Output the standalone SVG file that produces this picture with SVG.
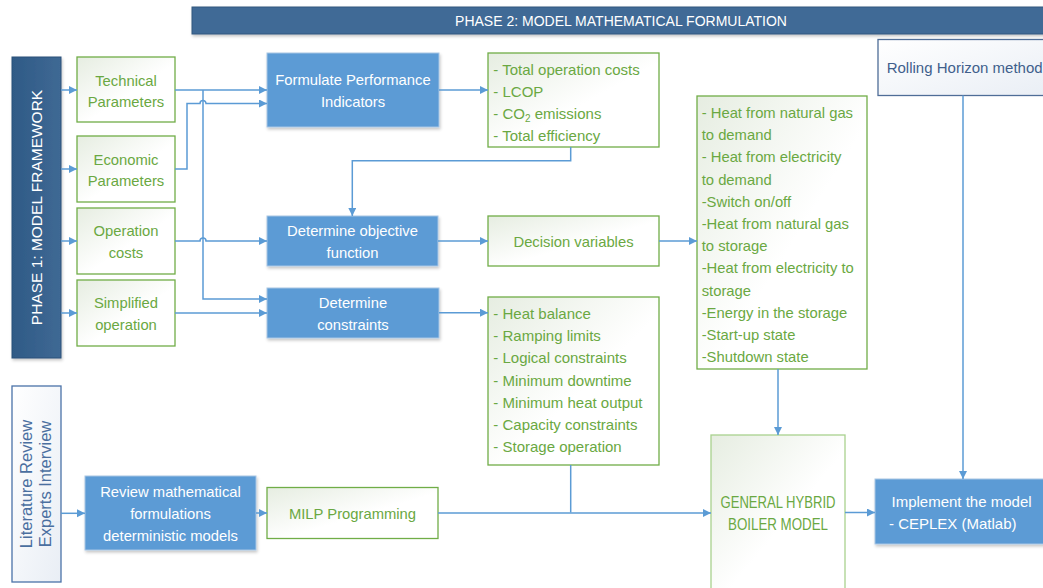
<svg xmlns="http://www.w3.org/2000/svg" width="1043" height="588" viewBox="0 0 1043 588">
<style>
text{font-family:"Liberation Sans",Arial,sans-serif;font-size:14.8px}
.w{fill:#ffffff}
.g{fill:#6aa842}
.c{text-anchor:middle}
.blue{fill:#5b9bd5;stroke:#a8c5e4;stroke-width:1}
.green{fill:url(#gg);stroke:#70ad47;stroke-width:1.3}
.conn path{fill:none;stroke:#5b9bd5;stroke-width:1.5}
.arr{marker-end:url(#ah)}
</style>
<defs>
<marker id="ah" markerUnits="userSpaceOnUse" markerWidth="9" markerHeight="9" refX="8" refY="4" orient="auto"><path d="M0,0 L8,4 L0,8 z" fill="#5b9bd5"/></marker>
<linearGradient id="gg" x1="0" y1="0" x2="1" y2="1"><stop offset="0" stop-color="#e6ede1"/><stop offset="0.55" stop-color="#ffffff"/></linearGradient>
<linearGradient id="bg" x1="0" y1="0" x2="1" y2="1"><stop offset="0" stop-color="#ffffff"/><stop offset="1" stop-color="#e9eef5"/></linearGradient>
<linearGradient id="dk" x1="0" y1="0" x2="1" y2="0"><stop offset="0" stop-color="#2f5a86"/><stop offset="1" stop-color="#3f6994"/></linearGradient>
<filter id="sh" x="-10%" y="-10%" width="130%" height="140%"><feDropShadow dx="1" dy="2" stdDeviation="1.5" flood-color="#000" flood-opacity="0.22"/></filter>
</defs>
<g id="banner"><rect x="192" y="7" width="860" height="27" fill="#3f6a96" stroke="#35597f" filter="url(#sh)"/><text x="621" y="25.5" class="w c" style="font-size:14px">PHASE 2: MODEL MATHEMATICAL FORMULATION</text></g>
<g id="phase1"><rect x="12" y="57" width="49" height="301" fill="url(#dk)" stroke="#2b5078" filter="url(#sh)"/><text transform="translate(41.5,207.5) rotate(-90)" class="w c" style="font-size:15.5px">PHASE 1: MODEL FRAMEWORK</text></g>
<g id="technical"><rect x="77" y="57" width="98" height="65" class="green"/><text x="126" y="86" class="g c">Technical</text><text x="126" y="107.3" class="g c">Parameters</text></g>
<g id="economic"><rect x="77" y="136" width="98" height="66" class="green"/><text x="126" y="164.7" class="g c">Economic</text><text x="126" y="186" class="g c">Parameters</text></g>
<g id="opcosts"><rect x="77" y="208" width="98" height="66" class="green"/><text x="126" y="236" class="g c">Operation</text><text x="126" y="257.7" class="g c">costs</text></g>
<g id="simplified"><rect x="77" y="280" width="98" height="66" class="green"/><text x="126" y="308.3" class="g c">Simplified</text><text x="126" y="330" class="g c">operation</text></g>
<g id="fpi"><rect x="267" y="53" width="172" height="74" class="blue" filter="url(#sh)"/><text x="353" y="85" class="w c">Formulate Performance</text><text x="353" y="106.7" class="w c">Indicators</text></g>
<g id="objective"><rect x="267" y="216" width="171" height="50" class="blue" filter="url(#sh)"/><text x="352.5" y="236" class="w c">Determine objective</text><text x="352.5" y="257.7" class="w c">function</text></g>
<g id="constraints"><rect x="267" y="288" width="172" height="50" class="blue" filter="url(#sh)"/><text x="353" y="308.3" class="w c">Determine</text><text x="353" y="330" class="w c">constraints</text></g>
<g id="kpis"><rect x="488" y="53" width="171" height="94" class="green"/>
<text x="493.3" y="75" class="g" style="font-size:15px">- Total operation costs</text>
<text x="493.3" y="97" class="g" style="font-size:15px">- LCOP</text>
<text x="493.3" y="119" class="g" style="font-size:15px">- CO<tspan style="font-size:10px" dy="3">2</tspan><tspan dy="-3"> emissions</tspan></text>
<text x="493.3" y="141" class="g" style="font-size:15px">- Total efficiency</text></g>
<g id="decision"><rect x="488" y="216" width="171" height="50" class="green"/><text x="573.5" y="246.7" class="g c">Decision variables</text></g>
<g id="conslist"><rect x="488" y="297" width="171" height="168" class="green"/>
<text x="493.3" y="319" class="g" style="font-size:15px">- Heat balance</text>
<text x="493.3" y="341.2" class="g" style="font-size:15px">- Ramping limits</text>
<text x="493.3" y="363.4" class="g" style="font-size:15px">- Logical constraints</text>
<text x="493.3" y="385.6" class="g" style="font-size:15px">- Minimum downtime</text>
<text x="493.3" y="407.8" class="g" style="font-size:15px">- Minimum heat output</text>
<text x="493.3" y="430" class="g" style="font-size:15px">- Capacity constraints</text>
<text x="493.3" y="452.2" class="g" style="font-size:15px">- Storage operation</text></g>
<g id="varlist"><rect x="697" y="96" width="170" height="273" class="green"/>
<text x="701.7" y="118" class="g">- Heat from natural gas</text>
<text x="701.7" y="140.2" class="g">to demand</text>
<text x="701.7" y="162.4" class="g">- Heat from electricity</text>
<text x="701.7" y="184.6" class="g">to demand</text>
<text x="701.7" y="206.8" class="g">-Switch on/off</text>
<text x="701.7" y="229" class="g">-Heat from natural gas</text>
<text x="701.7" y="251.2" class="g">to storage</text>
<text x="701.7" y="273.4" class="g">-Heat from electricity to</text>
<text x="701.7" y="295.6" class="g">storage</text>
<text x="701.7" y="317.8" class="g">-Energy in the storage</text>
<text x="701.7" y="340" class="g">-Start-up state</text>
<text x="701.7" y="362.2" class="g">-Shutdown state</text></g>
<g id="rolling"><rect x="878" y="39.5" width="175" height="56" fill="url(#bg)" stroke="#4f6d97" stroke-width="1.3"/><text x="886.7" y="73.3" style="font-size:15px;fill:#3f5f8c">Rolling Horizon method</text></g>
<g id="literature"><rect x="12" y="386" width="49" height="196" fill="url(#bg)" stroke="#4a72a8" stroke-width="1.3"/><text transform="translate(32,484) rotate(-90)" class="c" style="font-size:16.5px;fill:#4a6fa0">Literature Review</text><text transform="translate(51,484) rotate(-90)" class="c" style="font-size:16.5px;fill:#4a6fa0">Experts Interview</text></g>
<g id="review"><rect x="85" y="476" width="171" height="74" class="blue" filter="url(#sh)"/><text x="170.5" y="496.7" class="w c">Review mathematical</text><text x="170.5" y="519" class="w c">formulations</text><text x="170.5" y="540.7" class="w c">deterministic models</text></g>
<g id="milp"><rect x="267" y="487.5" width="171" height="51" class="green"/><text x="352.5" y="519" class="g c">MILP Programming</text></g>
<g id="general"><rect x="711" y="435" width="134" height="160" fill="url(#gg)" stroke="#a9d18e" stroke-width="1.3"/><text x="778" y="507.8" class="g c" textLength="115" lengthAdjust="spacingAndGlyphs" style="font-size:16px">GENERAL HYBRID</text><text x="778" y="529.5" class="g c" textLength="100" lengthAdjust="spacingAndGlyphs" style="font-size:16px">BOILER MODEL</text></g>
<g id="implement"><rect x="875" y="479" width="180" height="65" class="blue" filter="url(#sh)"/><text x="891.5" y="507.3" class="w" style="font-size:15px">Implement the model</text><text x="889" y="529" class="w" style="font-size:15px">- CEPLEX (Matlab)</text></g>
<g id="connectors" class="conn">
<path class="arr" d="M61 90 H77"/>
<path class="arr" d="M61 169 H77"/>
<path class="arr" d="M61 241 H77"/>
<path class="arr" d="M61 313 H77"/>
<path class="arr" d="M175 90 H267"/>
<path class="arr" d="M203 90 V299 H267"/>
<path class="arr" d="M175 169 H187 V103.5 H200 A3 3 0 0 1 206 103.5 H267"/>
<path class="arr" d="M175 241 H200 A3 3 0 0 1 206 241 H267"/>
<path class="arr" d="M175 313 H267"/>
<path class="arr" d="M439 90 H488"/>
<path class="arr" d="M570.7 147 V160.7 H352.3 V216"/>
<path class="arr" d="M438 241 H488"/>
<path class="arr" d="M659 241 H697"/>
<path class="arr" d="M439 312.7 H488"/>
<path d="M570.7 465 V512.5"/>
<path class="arr" d="M438 513 H711"/>
<path class="arr" d="M778 369 V435"/>
<path class="arr" d="M845 512.5 H875"/>
<path class="arr" d="M963 95.5 V479"/>
<path class="arr" d="M61 513.3 H85"/>
<path class="arr" d="M256 513 H267"/>
</g>
</svg>
